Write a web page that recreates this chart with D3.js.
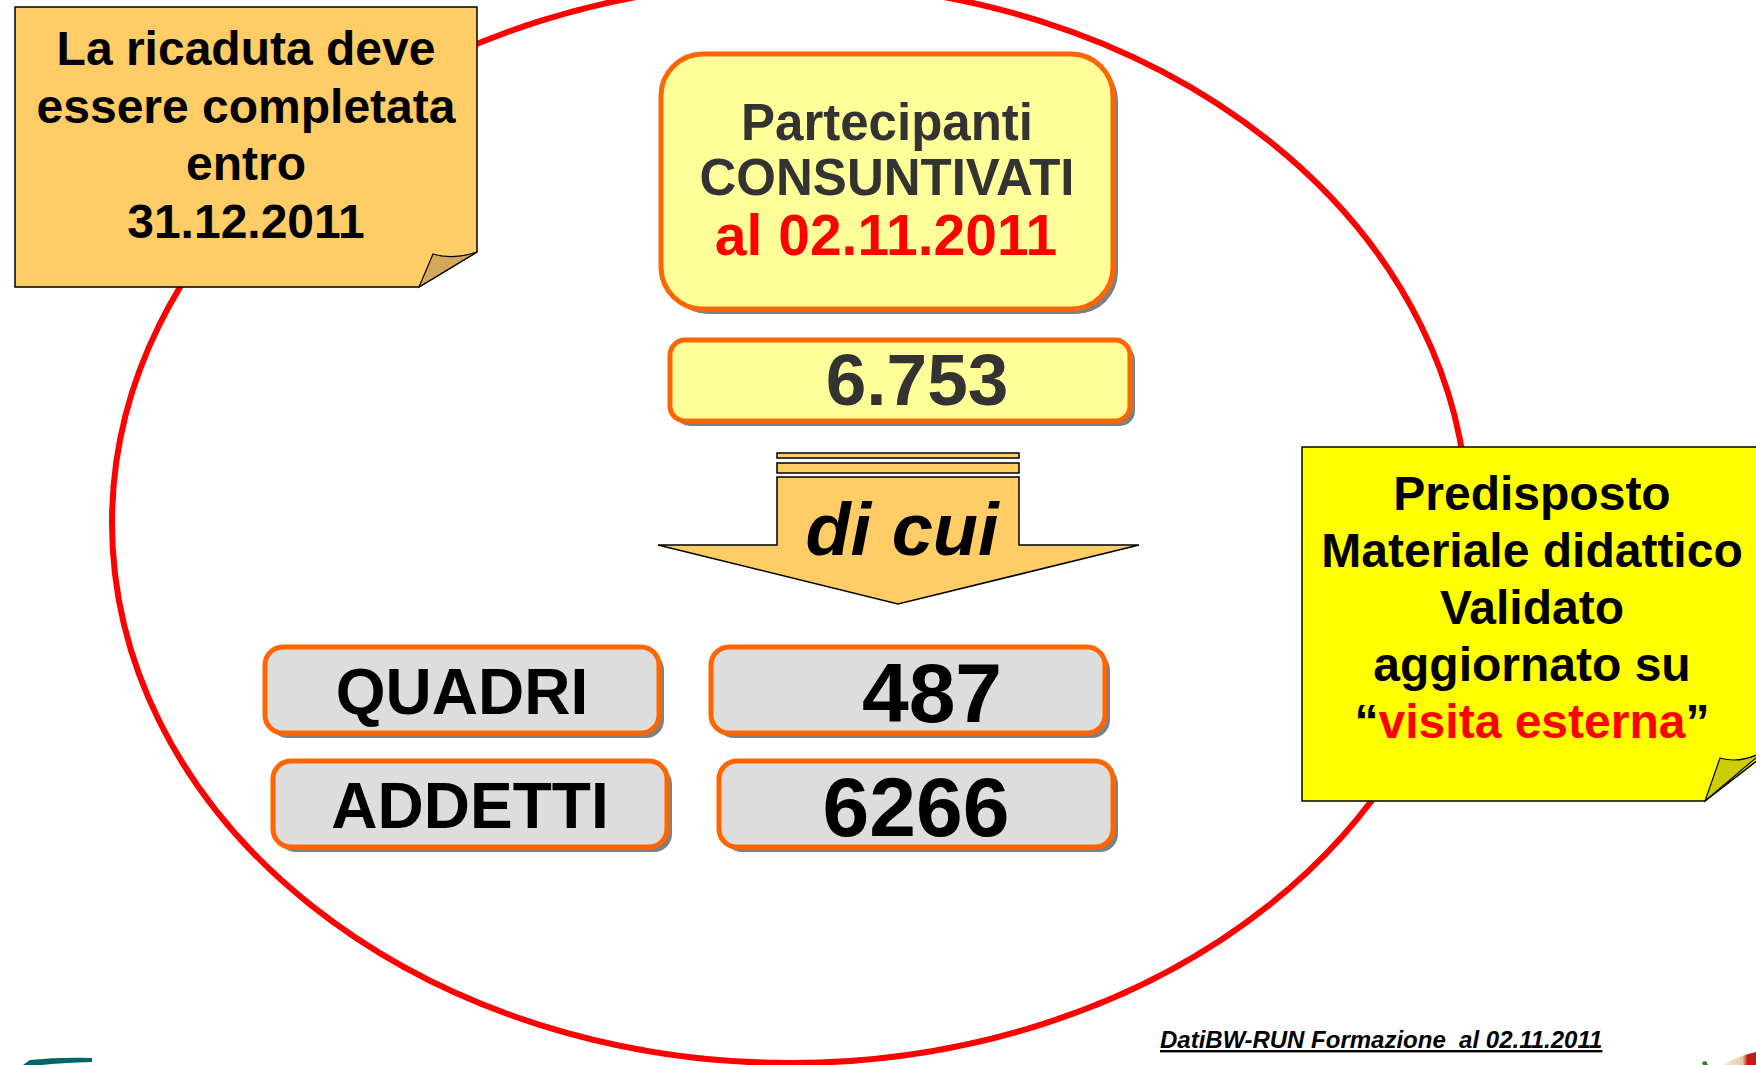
<!DOCTYPE html>
<html>
<head>
<meta charset="utf-8">
<script src="https://cdn.jsdelivr.net/npm/d3@7"></script>
<style>
  html, body { margin: 0; padding: 0; background: #ffffff; }
  svg { display: block; }
  text { font-family: "Liberation Sans", Arial, Helvetica, sans-serif; font-weight: bold; }
</style>
</head>
<body>
<script>
// ---------- data ----------
const noteLeftLines = ["La ricaduta deve", "essere completata", "entro", "31.12.2011"];
const headerLines = ["Partecipanti", "CONSUNTIVATI"];
const headerDate = "al 02.11.2011";
const totalParticipants = 6753;
const arrowLabel = "di cui";
const categories = ["QUADRI", "ADDETTI"];
const categoryValues = [487, 6266];
const noteRightLines = ["Predisposto", "Materiale didattico", "Validato", "aggiornato su"];
const noteRightQuoted = ["\u201C", "visita esterna", "\u201D"];
const footerText = "DatiBW-RUN Formazione  al 02.11.2011";

// ---------- setup ----------
const W = 1756, H = 1065;
const svg = d3.select("body").append("svg").attr("width", W).attr("height", H);
const itLocale = d3.formatLocale({ decimal: ",", thousands: ".", grouping: [3], currency: ["€", ""] });
const fmtTotal = itLocale.format(",d");

const ORANGE = "#ff6600", SHADOW = "#808080";

// ---------- big red ellipse ----------
svg.append("ellipse")
  .attr("cx", 790).attr("cy", 523).attr("rx", 678).attr("ry", 540)
  .attr("fill", "none").attr("stroke", "#ff0000").attr("stroke-width", 6);

// helper: rounded box with shadow
function box(g, x, y, w, h, r, fill, sw) {
  g.append("rect").attr("x", x + 5).attr("y", y + 5).attr("width", w).attr("height", h)
    .attr("rx", r).attr("fill", SHADOW);
  g.append("rect").attr("x", x).attr("y", y).attr("width", w).attr("height", h)
    .attr("rx", r).attr("fill", fill).attr("stroke", ORANGE).attr("stroke-width", sw);
}

// ---------- top-left note ----------
const nl = svg.append("g");
nl.append("path").attr("d", "M15,7 H477 V252 L419,287 H15 Z")
  .attr("fill", "#ffcc66").attr("stroke", "#000").attr("stroke-width", 1.5);
nl.append("path").attr("d", "M419,287 L433,254 Q452,260 477,252 Z")
  .attr("fill", "#d4a85a").attr("stroke", "#000").attr("stroke-width", 1.2);
const nlY = d3.scaleLinear().domain([0, noteLeftLines.length - 1]).range([65, 238]);
nl.selectAll("text.l").data(noteLeftLines).join("text")
  .attr("x", 246).attr("y", (d, i) => nlY(i))
  .attr("text-anchor", "middle").attr("font-size", 48).attr("fill", "#000")
  .text(d => d);

// ---------- header box ----------
const hb = svg.append("g");
box(hb, 661, 54, 452, 255, 42, "#ffff99", 5);
hb.selectAll("text.h").data(headerLines).join("text")
  .attr("x", 887).attr("y", (d, i) => [140, 195][i])
  .attr("text-anchor", "middle").attr("font-size", 51).attr("fill", "#333333")
  .text(d => d);
hb.append("text").attr("x", 886).attr("y", 255)
  .attr("text-anchor", "middle").attr("font-size", 57).attr("fill", "#ff0000")
  .text(headerDate);

// ---------- total box ----------
const tb = svg.append("g");
box(tb, 670, 340, 460, 81, 15, "#ffff99", 5);
tb.append("text").attr("x", 917).attr("y", 405)
  .attr("text-anchor", "middle").attr("font-size", 73).attr("fill", "#333333")
  .text(fmtTotal(totalParticipants));

// ---------- arrow ----------
const ar = svg.append("g").attr("stroke", "#000").attr("stroke-width", 1.5).attr("fill", "#ffcc66");
ar.append("rect").attr("x", 777).attr("y", 453).attr("width", 242).attr("height", 5);
ar.append("rect").attr("x", 777).attr("y", 463).attr("width", 242).attr("height", 10);
ar.append("path").attr("d", "M777,477 H1019 V545 H1139 L898,604 L658,545 H777 Z");
svg.append("text").attr("x", 902).attr("y", 555)
  .attr("text-anchor", "middle").attr("font-size", 74).attr("font-style", "italic").attr("fill", "#000")
  .text(arrowLabel);

// ---------- category rows ----------
const rowY = d3.scalePoint().domain(categories).range([647, 761]);
const rowShift = d3.scaleLinear().domain([0, 1]).range([0, 8]);
const valueOffset = [24, 0];
const rows = svg.selectAll("g.row").data(categories).join("g").attr("class", "row");
rows.each(function (d, i) {
  const g = d3.select(this);
  const y = rowY(d), s = rowShift(i);
  const h = 86;
  box(g, 265 + s, y, 394, h, 18, "#dddddd", 5);
  box(g, 711 + s, y, 394, h, 18, "#dddddd", 5);
  g.append("text").attr("x", 462 + s).attr("y", y + 67)
    .attr("text-anchor", "middle").attr("font-size", 64).attr("fill", "#000")
    .text(d);
  g.append("text").attr("x", 908 + s + valueOffset[i]).attr("y", y + 75)
    .attr("text-anchor", "middle").attr("font-size", 84).attr("fill", "#000")
    .text(String(categoryValues[i]));
});

// ---------- right note ----------
const nr = svg.append("g");
nr.append("path").attr("d", "M1302,447 H1763 V756 L1705,801 H1302 Z")
  .attr("fill", "#ffff00").attr("stroke", "#000").attr("stroke-width", 1.5);
nr.append("path").attr("d", "M1705,801 L1720,758 Q1740,764 1763,752 Z")
  .attr("fill", "#cccc00").attr("stroke", "#000").attr("stroke-width", 1.2);
const nrY = d3.scaleLinear().domain([0, 4]).range([510, 738]);
nr.selectAll("text.r").data(noteRightLines).join("text")
  .attr("x", 1532).attr("y", (d, i) => nrY(i))
  .attr("text-anchor", "middle").attr("font-size", 48).attr("fill", "#000")
  .text(d => d);
const q = nr.append("text").attr("x", 1532).attr("y", nrY(4))
  .attr("text-anchor", "middle").attr("font-size", 48);
q.selectAll("tspan").data(noteRightQuoted).join("tspan")
  .attr("fill", (d, i) => i === 1 ? "#ff0000" : "#000")
  .text(d => d);

// ---------- footer ----------
svg.append("text").attr("x", 1160).attr("y", 1048)
  .attr("font-size", 24).attr("font-style", "italic").attr("fill", "#000")
  .attr("text-decoration", "underline").style("white-space", "pre")
  .text(footerText);

// ---------- corner decorations ----------
svg.append("path").attr("d", "M23,1065 L30,1060 Q60,1057 92,1058 L92,1062 Q60,1063 42,1065 Z")
  .attr("fill", "#006666");
const grad = svg.append("defs").append("linearGradient").attr("id", "flag")
  .attr("x1", "0%").attr("x2", "100%");
grad.append("stop").attr("offset", "0%").attr("stop-color", "#f4efe6");
grad.append("stop").attr("offset", "60%").attr("stop-color", "#e2cfa8");
grad.append("stop").attr("offset", "75%").attr("stop-color", "#c41a1a");
grad.append("stop").attr("offset", "100%").attr("stop-color", "#c41a1a");
svg.append("path").attr("d", "M1722,1065 Q1738,1056 1756,1052 L1756,1065 Z").attr("fill", "url(#flag)");
svg.append("path").attr("d", "M1702,1062 L1706,1061 L1708,1065 L1703,1065 Z").attr("fill", "#3a7a2a");
</script>
</body>
</html>
